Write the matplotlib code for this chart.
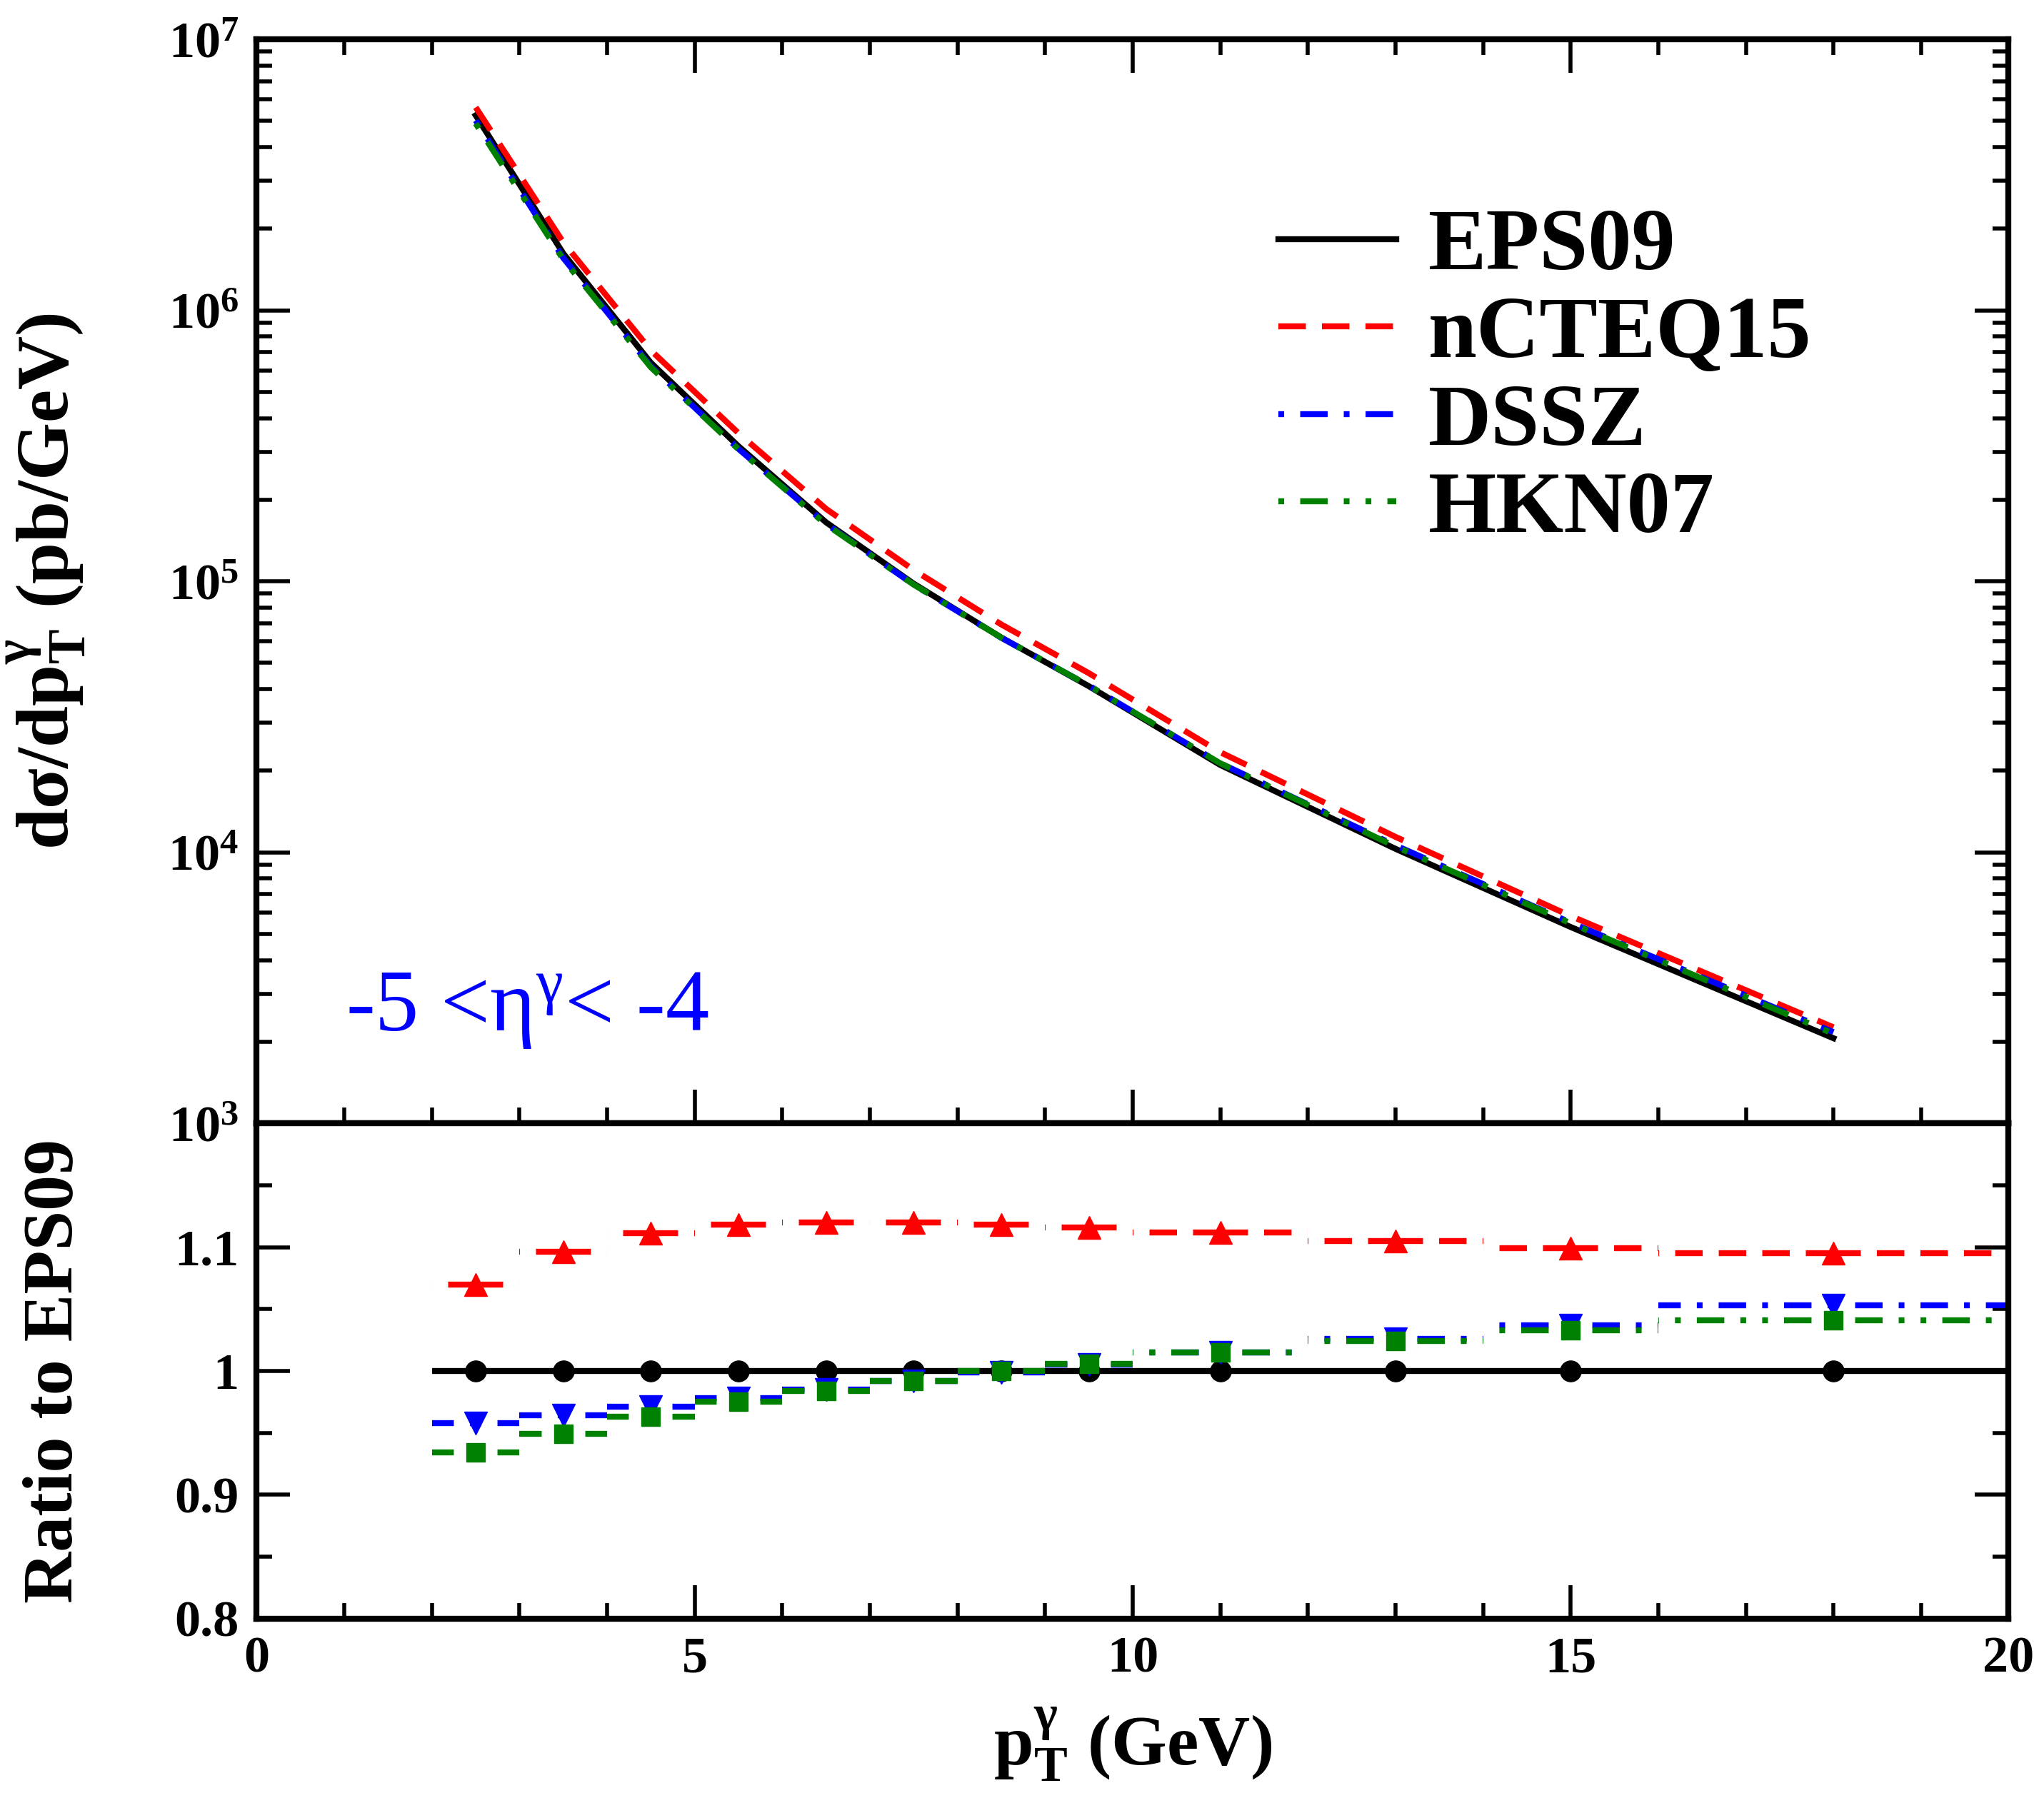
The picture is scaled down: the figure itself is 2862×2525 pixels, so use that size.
import math
import matplotlib
matplotlib.use('Agg')
import matplotlib.pyplot as plt
from matplotlib.ticker import MultipleLocator, FixedLocator, FuncFormatter, LogLocator, NullFormatter

# bin centres / edges (GeV)
pt = [2.5, 3.5, 4.5, 5.5, 6.5, 7.5, 8.5, 9.5, 11, 13, 15, 18]
edges = [2, 3, 4, 5, 6, 7, 8, 9, 10, 12, 14, 16, 20]

# d sigma / d pT (pb/GeV)
eps09 = [5.24e6, 1.62e6, 6.4e5, 3.15e5, 1.65e5, 9.8e4, 6.2e4, 4.1e4, 2.1e4, 1.03e4, 5.3e3, 2.06e3]
ncteq15 = [5.61e6, 1.78e6, 7.11e5, 3.52e5, 1.85e5, 1.10e5, 6.93e4, 4.58e4, 2.34e4, 1.14e4, 5.82e3, 2.26e3]
dssz = [5.02e6, 1.56e6, 6.21e5, 3.08e5, 1.63e5, 9.72e4, 6.19e4, 4.12e4, 2.13e4, 1.06e4, 5.50e3, 2.17e3]
hkn07 = [4.89e6, 1.54e6, 6.16e5, 3.07e5, 1.62e5, 9.72e4, 6.20e4, 4.12e4, 2.13e4, 1.05e4, 5.47e3, 2.14e3]

# ratio to EPS09
r_eps09 = [1.0, 1.0, 1.0, 1.0, 1.0, 1.0, 1.0, 1.0, 1.0, 1.0, 1.0, 1.0]
r_ncteq15 = [1.070, 1.096, 1.111, 1.118, 1.120, 1.120, 1.118, 1.116, 1.112, 1.105, 1.099, 1.095]
r_dssz = [0.958, 0.964, 0.971, 0.978, 0.985, 0.992, 0.999, 1.005, 1.015, 1.026, 1.037, 1.053]
r_hkn07 = [0.934, 0.949, 0.963, 0.975, 0.984, 0.992, 1.000, 1.006, 1.015, 1.024, 1.033, 1.041]

labels = ['EPS09', 'nCTEQ15', 'DSSZ', 'HKN07']

plt.rcParams['font.family'] = ['Liberation Serif', 'DejaVu Serif']
plt.rcParams['font.weight'] = 'bold'
plt.rcParams['mathtext.fontset'] = 'custom'
plt.rcParams['mathtext.rm'] = 'Liberation Serif:weight=normal'
plt.rcParams['mathtext.it'] = 'Liberation Serif:italic'
plt.rcParams['mathtext.bf'] = 'Liberation Serif:bold'
plt.rcParams['lines.scale_dashes'] = False

GREEN = '#008000'
DASH, GAP, DOT = 27.7, 16.2, 5.8
styles = [
    dict(color='black', ls='-', marker='o', ms=21),
    dict(color='red', ls=(0, (DASH, GAP)), marker='^', ms=23),
    dict(color='blue', ls=(0, (DOT, GAP, DASH, GAP)), marker='v', ms=23),
    dict(color=GREEN, ls=(0, (DOT, GAP, DASH, GAP, DOT, GAP)), marker='s', ms=19),
]

fig = plt.figure(figsize=(28.62, 25.25), dpi=100)
L, R = 0.1256, 0.9827
ax1 = fig.add_axes([L, 0.377, R - L, 0.9782 - 0.377])
ax2 = fig.add_axes([L, 0.1022, R - L, 0.377 - 0.1022])

# upper panel
for y, lab, st in zip([eps09, ncteq15, dssz, hkn07], labels, styles):
    ax1.plot(pt, y, color=st['color'], linestyle=st['ls'], lw=6, label=lab)

ax1.set_yscale('log')
ax1.set_xlim(0, 20)
ax1.set_ylim(1e3, 1e7)
ax1.yaxis.set_major_locator(LogLocator(base=10, numticks=10))
ax1.yaxis.set_minor_locator(LogLocator(base=10, subs=range(2, 10), numticks=50))
ax1.yaxis.set_minor_formatter(NullFormatter())
ax1.yaxis.set_major_formatter(FuncFormatter(lambda v, p: r'$\mathbf{10^{%d}}$' % round(math.log10(v))))
ax1.set_ylabel(r'$\mathbf{d\sigma/dp_T^{\gamma}\ (pb/GeV)}$', fontsize=75)
ax1.tick_params(labelbottom=False)

ax1.text(0.0508, 0.086, r'-5 <$\mathrm{\eta^{\gamma}}$< -4', transform=ax1.transAxes,
         color='blue', fontsize=88, fontweight='normal', va='baseline', ha='left')

ax1.legend(loc='upper left', bbox_to_anchor=(0.583, 0.844), frameon=False,
           prop=dict(family='Liberation Serif', weight='bold', size=88),
           handlelength=1.35, handletextpad=0.37, labelspacing=0.09,
           borderpad=0, borderaxespad=0)

# ratio panel: each half bin drawn outward from the bin centre
left = edges[:-1]
right = edges[1:]
for r, st in zip([r_eps09, r_ncteq15, r_dssz, r_hkn07], styles):
    ax2.hlines(r, pt, left, colors=st['color'], linestyles=[st['ls']], lw=6)
    ax2.hlines(r, pt, right, colors=st['color'], linestyles=[st['ls']], lw=6)
    ax2.plot(pt, r, linestyle='none', marker=st['marker'], ms=st['ms'], color=st['color'])

ax2.set_xlim(0, 20)
ax2.set_ylim(0.8, 1.2)
ax2.yaxis.set_major_locator(FixedLocator([0.8, 0.9, 1.0, 1.1, 1.2]))
ax2.yaxis.set_major_formatter(FuncFormatter(lambda v, p: {0.8: '0.8', 0.9: '0.9', 1.0: '1', 1.1: '1.1'}.get(round(v, 2), '')))
ax2.yaxis.set_minor_locator(MultipleLocator(0.05))
ax2.set_ylabel('Ratio to EPS09', fontsize=72, fontweight='bold')
ax2.set_xlabel(r'$\mathbf{p_T^{\gamma}\ (GeV)}$', fontsize=72)
ax2.xaxis.set_label_coords(0.5, -0.175)

for ax in (ax1, ax2):
    ax.xaxis.set_major_locator(MultipleLocator(5))
    ax.xaxis.set_minor_locator(MultipleLocator(1))
    for s in ax.spines.values():
        s.set_linewidth(6)
    ax.tick_params(which='both', direction='in', right=True, width=4, labelsize=52, pad=18)
    ax.tick_params(which='major', length=34)
    ax.tick_params(which='minor', length=16)
    ax.yaxis.set_label_coords(-0.097, 0.5)
    for t in ax.get_xticklabels() + ax.get_yticklabels():
        t.set_fontweight('bold')

ax1.tick_params(which='both', top=True)
ax2.tick_params(which='both', top=False)

fig.savefig('out.png', dpi=100)
